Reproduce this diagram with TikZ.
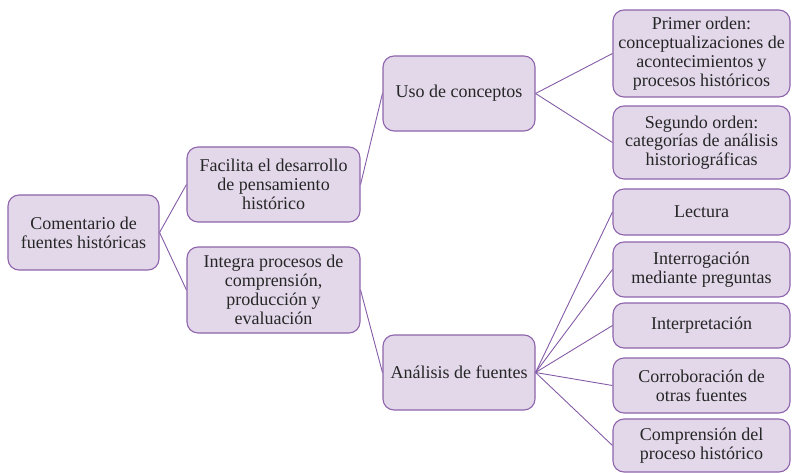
\documentclass[tikz,border=0pt]{standalone}
\usepackage{fontspec}
\setmainfont{Liberation Serif}
\definecolor{boxfill}{RGB}{226,216,234}
\definecolor{boxdraw}{RGB}{142,100,172}
\definecolor{linecol}{RGB}{132,92,166}
\begin{document}
\begin{tikzpicture}[x=1pt,y=-1pt,
  box/.style={draw=boxdraw, fill=boxfill, line width=1.1pt, rounded corners=11pt,
    align=center, inner sep=2pt, text=black!85,
    font=\fontsize{18}{18.8}\selectfont},
  conn/.style={draw=linecol, line width=0.9pt}]
\useasboundingbox (0,0) rectangle (792,473);
\node[box, minimum width=151pt, minimum height=75pt] (c1) at (83.5,232.5) {Comentario de\\fuentes históricas};
\node[box, minimum width=173pt, minimum height=75pt] (fac) at (273.5,184.5) {Facilita el desarrollo\\de pensamiento\\histórico};
\node[box, minimum width=173pt, minimum height=86pt] (int) at (273.5,290) {Integra procesos de\\comprensión,\\producción y\\evaluación};
\node[box, minimum width=152pt, minimum height=75pt] (uso) at (459,93.5) {Uso de conceptos};
\node[box, minimum width=152pt, minimum height=75pt] (ana) at (459,372.5) {Análisis de fuentes};
\node[box, minimum width=177pt, minimum height=87pt] (pri) at (701.5,53.5) {Primer orden:\\conceptualizaciones de\\acontecimientos y\\procesos históricos};
\node[box, minimum width=177pt, minimum height=73pt] (seg) at (701.5,142.5) {Segundo orden:\\categorías de análisis\\historiográficas};
\node[box, minimum width=177pt, minimum height=46pt] (lec) at (701.5,212) {Lectura};
\node[box, minimum width=177pt, minimum height=55pt] (intr) at (701.5,269.5) {Interrogación\\mediante preguntas};
\node[box, minimum width=177pt, minimum height=45pt] (inte) at (701.5,325.5) {Interpretación};
\node[box, minimum width=177pt, minimum height=55pt] (cor) at (701.5,385.5) {Corroboración de\\otras fuentes};
\node[box, minimum width=177pt, minimum height=53pt] (com) at (701.5,445.5) {Comprensión del\\proceso histórico};
\draw[conn] (c1.east) -- (fac.west);
\draw[conn] (c1.east) -- (int.west);
\draw[conn] (fac.east) -- (uso.west);
\draw[conn] (int.east) -- (ana.west);
\draw[conn] (uso.east) -- (pri.west);
\draw[conn] (uso.east) -- (seg.west);
\draw[conn] (ana.east) -- (lec.west);
\draw[conn] (ana.east) -- (intr.west);
\draw[conn] (ana.east) -- (inte.west);
\draw[conn] (ana.east) -- (cor.west);
\draw[conn] (ana.east) -- (com.west);
\end{tikzpicture}
\end{document}
